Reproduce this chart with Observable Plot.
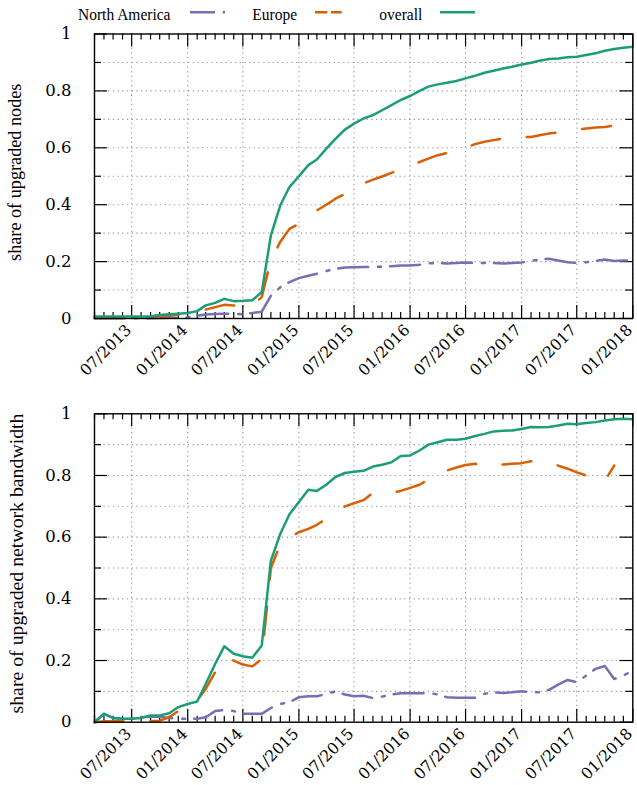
<!DOCTYPE html>
<html>
<head>
<meta charset="utf-8">
<script src="https://cdn.jsdelivr.net/npm/d3@7"></script>
<script src="https://cdn.jsdelivr.net/npm/@observablehq/plot@0.6"></script>
<style>
  html, body { margin: 0; padding: 0; background: white; }
  svg { display: block; }
</style>
</head>
<body>
<div id="chart"></div>
<script>
// ---- data ----
const seriesNames = ["North America", "Europe", "overall"];
const seriesColors = ["#7570b3", "#d95f02", "#1b9e77"];
const seriesDash = ["30,10,3,9", "29,27", null];

const months = [
  "2013-03","2013-04","2013-05","2013-06","2013-07","2013-08","2013-09","2013-10","2013-11","2013-12",
  "2014-01","2014-02","2014-03","2014-04","2014-05","2014-06","2014-07","2014-08","2014-09","2014-10","2014-11","2014-12",
  "2015-01","2015-02","2015-03","2015-04","2015-05","2015-06","2015-07","2015-08","2015-09","2015-10","2015-11","2015-12",
  "2016-01","2016-02","2016-03","2016-04","2016-05","2016-06","2016-07","2016-08","2016-09","2016-10","2016-11","2016-12",
  "2017-01","2017-02","2017-03","2017-04","2017-05","2017-06","2017-07","2017-08","2017-09","2017-10","2017-11","2017-12",
  "2018-01"
];

const tickLabels = ["07/2013","01/2014","07/2014","01/2015","07/2015","01/2016","07/2016","01/2017","07/2017","01/2018"];
const yTickValues = [0, 0.2, 0.4, 0.6, 0.8, 1];
const yTickLabels = ["0", "0.2", "0.4", "0.6", "0.8", "1"];
const yMinorValues = [0.1, 0.3, 0.5, 0.7, 0.9];
const yGridValues = [0.1, 0.2, 0.3, 0.4, 0.5, 0.6, 0.7, 0.8, 0.9];

const nodesNorthAmerica = [
  0.001,0.001,0.001,0.001,0.001,0.001,0.001,0.002,0.003,0.003,
  0.004,0.010,0.014,0.016,0.017,0.016,0.015,0.019,0.024,0.080,
  0.110,0.128,0.142,0.150,0.157,0.167,0.175,0.179,0.180,0.181,
  0.181,0.182,0.184,0.186,0.186,0.189,0.194,0.195,0.193,0.195,
  0.197,0.195,0.195,0.195,0.193,0.195,0.197,0.202,0.207,0.210,
  0.204,0.198,0.195,0.198,0.202,0.207,0.202,0.204,0.204
];
const nodesEurope = [
  0.002,0.002,0.002,0.002,0.002,0.002,0.004,0.007,0.010,0.014,
  0.017,0.022,0.031,0.040,0.048,0.046,0.046,0.047,0.075,0.205,
  0.270,0.315,0.333,0.357,0.380,0.400,0.421,0.438,0.458,0.475,
  0.488,0.499,0.512,0.525,0.538,0.550,0.562,0.574,0.582,0.589,
  0.600,0.613,0.621,0.627,0.633,0.638,0.638,0.638,0.644,0.650,
  0.654,0.660,0.664,0.668,0.671,0.673,0.678,0.676,0.673
];
const nodesOverall = [
  0.007,0.007,0.007,0.007,0.007,0.007,0.008,0.012,0.015,0.017,
  0.019,0.026,0.046,0.055,0.069,0.061,0.062,0.064,0.093,0.292,
  0.398,0.462,0.500,0.539,0.559,0.597,0.631,0.664,0.685,0.703,
  0.715,0.732,0.750,0.768,0.782,0.800,0.815,0.823,0.829,0.835,
  0.844,0.853,0.864,0.871,0.879,0.885,0.893,0.899,0.906,0.912,
  0.914,0.918,0.920,0.926,0.932,0.941,0.947,0.952,0.955
];

const bwNorthAmerica = [
  0.000,0.027,0.014,0.011,0.011,0.016,0.018,0.018,0.014,0.011,
  0.011,0.011,0.016,0.036,0.040,0.036,0.027,0.027,0.027,0.046,
  0.059,0.065,0.081,0.084,0.084,0.092,0.100,0.090,0.084,0.086,
  0.078,0.083,0.090,0.094,0.094,0.094,0.094,0.090,0.081,0.079,
  0.079,0.079,0.092,0.097,0.095,0.097,0.100,0.097,0.097,0.105,
  0.122,0.137,0.130,0.151,0.173,0.182,0.140,0.151,0.168
];
const bwEurope = [
  0.000,0.003,0.003,0.003,0.003,0.003,0.004,0.005,0.016,0.036,
  0.054,0.070,0.108,0.162,0.209,0.200,0.187,0.181,0.205,0.500,
  0.578,0.600,0.616,0.627,0.640,0.660,0.676,0.700,0.710,0.720,
  0.744,0.744,0.744,0.750,0.760,0.770,0.787,0.802,0.816,0.826,
  0.834,0.838,0.830,0.828,0.836,0.838,0.840,0.846,0.849,0.843,
  0.832,0.822,0.810,0.800,0.790,0.782,0.832,null,null
];
const bwOverall = [
  0.000,0.027,0.014,0.011,0.011,0.014,0.022,0.022,0.029,0.049,
  0.059,0.067,0.124,0.189,0.246,0.222,0.214,0.209,0.249,0.524,
  0.611,0.674,0.714,0.754,0.750,0.770,0.795,0.808,0.812,0.815,
  0.829,0.835,0.843,0.863,0.865,0.881,0.900,0.908,0.916,0.916,
  0.919,0.928,0.935,0.943,0.945,0.946,0.951,0.957,0.956,0.957,
  0.962,0.968,0.966,0.970,0.973,0.978,0.982,0.984,0.982
];

// ---- helpers ----
const parseMonth = d3.utcParse("%Y-%m");
const parseTick = d3.utcParse("%m/%Y");
const monthDates = months.map(parseMonth);
const majorDates = tickLabels.map(parseTick);
const majorSet = new Set(majorDates.map(d => +d));
const minorDates = monthDates.filter(d => !majorSet.has(+d));
const xDomain = [monthDates[0], monthDates[monthDates.length - 1]];

const W = 637, ML = 94, MR = 4.7;
const innerW = W - ML - MR;

const container = document.getElementById("chart");

// ---- legend ----
const legend = d3.create("svg").attr("width", W).attr("height", 24);
const legTextX = [78, 252.3, 379.3];
const legSwatch = [[190, 225, "25,7.7,2.3,20"], [315, 341.7, "12.3,3.7,10.7,10"], [440, 475, null]];
seriesNames.forEach((name, i) => {
  legend.append("text")
    .attr("transform", `translate(${legTextX[i]},20) scale(1,1.14)`)
    .attr("font-family", "Liberation Serif").attr("font-size", 15.5).attr("fill", "black")
    .text(name);
  const ln = legend.append("line")
    .attr("x1", legSwatch[i][0]).attr("x2", legSwatch[i][1]).attr("y1", 12.3).attr("y2", 12.3)
    .attr("stroke", seriesColors[i]).attr("stroke-width", 2.5);
  if (legSwatch[i][2]) ln.attr("stroke-dasharray", legSwatch[i][2]);
});
container.appendChild(legend.node());

function panel(seriesValues, yLabel, height, marginTop, marginBottom, labelSize, labelDx, labelDy) {
  const innerH = height - marginTop - marginBottom;
  const lines = seriesValues.map((vals, i) => {
    const data = monthDates.map((d, j) => ({date: d, value: vals[j]})).filter(d => d.value != null);
    const opts = {x: "date", y: "value", stroke: seriesColors[i], strokeWidth: 2.5, strokeLinejoin: "round"};
    if (seriesDash[i]) opts.strokeDasharray = seriesDash[i];
    return Plot.line(data, opts);
  });
  const gridStyle = {stroke: "#9a9a9a", strokeOpacity: 1, strokeWidth: 1.1, strokeDasharray: "1.3,3.4"};
  const tickStyle = {stroke: "black", strokeWidth: 1.2};
  return Plot.plot({
    width: W, height, marginLeft: ML, marginRight: MR, marginTop, marginBottom,
    x: {type: "utc", domain: xDomain},
    y: {domain: [0, 1]},
    style: {fontFamily: "DejaVu Serif", fontSize: "16px", color: "black", background: "white", overflow: "visible"},
    marks: [
      Plot.gridY(yGridValues, gridStyle),
      Plot.gridX(majorDates, gridStyle),
      Plot.tickX(majorDates, {...tickStyle, insetTop: innerH - 13}),
      Plot.tickX(majorDates, {...tickStyle, insetBottom: innerH - 13}),
      Plot.tickX(minorDates, {...tickStyle, insetTop: innerH - 6}),
      Plot.tickX(minorDates, {...tickStyle, insetBottom: innerH - 6}),
      Plot.tickY(yTickValues, {...tickStyle, insetRight: innerW - 13}),
      Plot.tickY(yTickValues, {...tickStyle, insetLeft: innerW - 13}),
      Plot.tickY(yMinorValues, {...tickStyle, insetRight: innerW - 7}),
      Plot.tickY(yMinorValues, {...tickStyle, insetLeft: innerW - 7}),
      ...lines,
      Plot.frame({stroke: "black", strokeWidth: 1.4}),
      Plot.axisY(yTickValues, {tickSize: 0, tickPadding: 23, label: null,
        tickFormat: d => yTickLabels[yTickValues.indexOf(d)], fontSize: 16.5}),
      Plot.axisX(majorDates, {tickSize: 0, tickPadding: 9, dx: -3, tickRotate: -45, label: null,
        tickFormat: d => tickLabels[majorDates.findIndex(m => +m === +d)], fontSize: 15.6}),
      Plot.text([yLabel], {text: d => d, frameAnchor: "left", rotate: -90, dx: labelDx, dy: labelDy,
        textAnchor: "middle", fontFamily: "Liberation Serif", fontSize: labelSize, fill: "black"})
    ]
  });
}

container.appendChild(panel([nodesNorthAmerica, nodesEurope, nodesOverall],
  "share of upgraded nodes", 360, 9.5, 66, 18.2, -79, -4));
container.appendChild(panel([bwNorthAmerica, bwEurope, bwOverall],
  "share of upgraded network bandwidth", 401, 29.3, 63.3, 19.8, -78, -4.5));
</script>
</body>
</html>
